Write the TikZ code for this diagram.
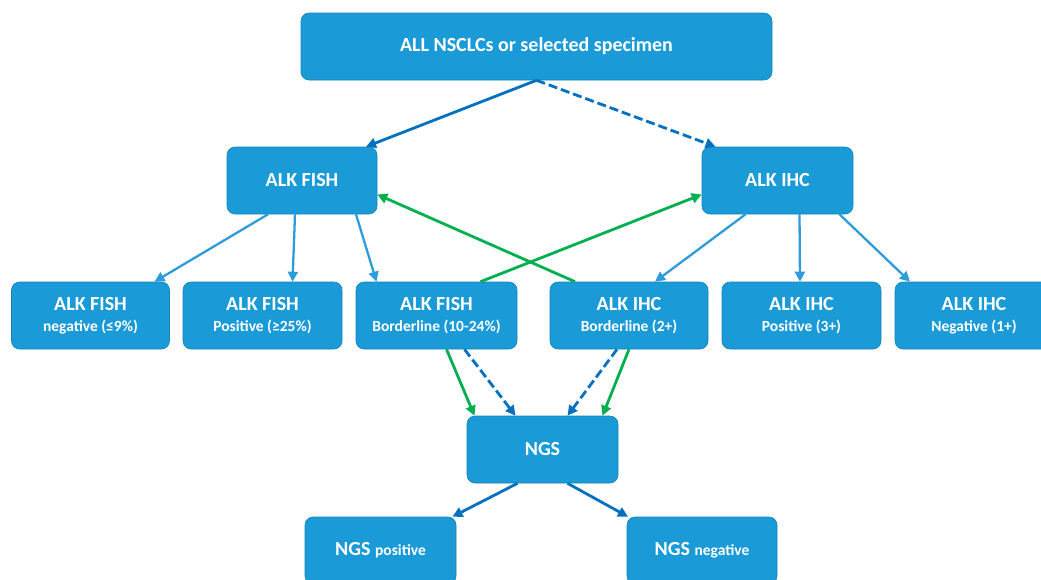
\documentclass[tikz,border=0pt]{standalone}
\usepackage{fontspec}
\setmainfont{Carlito}
\usetikzlibrary{arrows.meta}
\definecolor{boxblue}{HTML}{1A9BD7}
\definecolor{darkarrow}{HTML}{0070C0}
\definecolor{lightarrow}{HTML}{2E9CDB}
\definecolor{greenarrow}{HTML}{00B050}
\tikzset{
  box/.style={rectangle, rounded corners=8pt, fill=boxblue, draw=boxblue!85!black, line width=0.6pt,
    minimum height=67pt, text=white, font=\bfseries\fontsize{20}{23}\selectfont, align=center, inner sep=2pt},
  darkline/.style={darkarrow, line width=2.8pt, -{Triangle[length=10pt,width=10pt]}},
  lightline/.style={lightarrow, line width=2.3pt, -{Triangle[length=10pt,width=10pt]}},
  greenline/.style={greenarrow, line width=2.8pt, -{Triangle[length=10pt,width=10pt]}},
  dashline/.style={darkline, dash pattern=on 9pt off 4pt}
}
\newcommand{\subtxt}[1]{{\fontsize{15.5}{18}\selectfont #1}}
\begin{document}
\begin{tikzpicture}[x=1pt,y=-1pt]
\useasboundingbox (0,0) rectangle (1041,579);
\clip (0,0) rectangle (1041,579);

\node(top) at (536.5,46.5) [box, minimum width=471pt] {ALL NSCLCs or selected specimen};
\node(fish) at (302,180.5) [box, minimum width=150pt] {ALK FISH};
\node(ihc) at (777.5,180.5) [box, minimum width=151pt] {ALK IHC};

\node(fneg) at (90.5,315.5) [box, minimum width=158pt] {ALK FISH\\[-2pt]\subtxt{negative (≤9\%)}};
\node(fpos) at (262.5,315.5) [box, minimum width=159pt] {ALK FISH\\[-2pt]\subtxt{Positive (≥25\%)}};
\node(fbor) at (436.5,315.5) [box, minimum width=161pt] {ALK FISH\\[-2pt]\subtxt{Borderline (10-24\%)}};
\node(ibor) at (629,315.5) [box, minimum width=158pt] {ALK IHC\\[-2pt]\subtxt{Borderline (2+)}};
\node(ipos) at (801.5,315.5) [box, minimum width=159pt] {ALK IHC\\[-2pt]\subtxt{Positive (3+)}};
\node(ineg) at (974,315.5) [box, minimum width=158pt] {ALK IHC\\[-2pt]\subtxt{Negative (1+)}};

\node(ngs) at (542.5,449.5) [box, minimum width=151pt] {NGS};
\node(npos) at (380.5,550.5) [box, minimum width=151pt] {NGS \subtxt{positive}};
\node(nneg) at (702,550.5) [box, minimum width=150pt] {NGS \subtxt{negative}};

%% from the specimen
\draw[darkline] (top.south) -- ([xshift=64pt]fish.north);
\draw[dashline] (top.south) -- ([xshift=-62pt]ihc.north);

%% FISH results
\draw[lightline] ([xshift=-34pt]fish.south) -- ([xshift=64pt]fneg.north);
\draw[lightline] ([xshift=-7pt]fish.south) -- ([xshift=30pt]fpos.north);
\draw[lightline] ([xshift=54pt]fish.south) -- ([xshift=-60pt]fbor.north);

%% IHC results
\draw[lightline] ([xshift=-32pt]ihc.south) -- ([xshift=26pt]ibor.north);
\draw[lightline] ([xshift=22pt]ihc.south) -- ([xshift=-1.5pt]ipos.north);
\draw[lightline] ([xshift=62pt]ihc.south) -- ([xshift=-64pt]ineg.north);

%% borderline cross checks
\draw[greenline] ([xshift=44pt]fbor.north) -- ([yshift=-14pt]ihc.west);
\draw[greenline] ([xshift=-54pt]ibor.north) -- ([yshift=-14pt]fish.east);

%% to NGS
\draw[greenline] ([xshift=10pt]fbor.south) -- ([xshift=-68pt]ngs.north);
\draw[dashline] ([xshift=28pt]fbor.south) -- ([xshift=-27pt]ngs.north);
\draw[dashline] ([xshift=-12pt]ibor.south) -- ([xshift=25pt]ngs.north);
\draw[greenline] (ibor.south) -- ([xshift=60pt]ngs.north);

\draw[darkline] ([xshift=-25pt]ngs.south) -- ([xshift=72pt]npos.north);
\draw[darkline] ([xshift=25pt]ngs.south) -- ([xshift=-74pt]nneg.north);

\end{tikzpicture}
\end{document}
